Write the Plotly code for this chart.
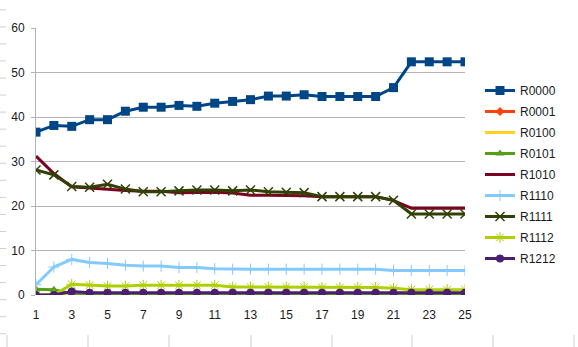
import plotly.graph_objects as go

x_vals = list(range(1, 26))
x_ticks = list(range(1, 26, 2))
y_ticks = [0, 10, 20, 30, 40, 50, 60]

R0000 = [36.6, 38.1, 37.9, 39.4, 39.4, 41.3, 42.2, 42.2, 42.6, 42.4, 43.1, 43.5, 43.9,
         44.7, 44.7, 45.0, 44.6, 44.6, 44.6, 44.6, 46.6, 52.4, 52.4, 52.4, 52.4]
R0001 = [0.0] * 25
R0100 = [0.0] * 25
R0101 = [1.3, 1.2] + [0.3] * 23
R1010 = [31.2, 27.3, 24.3, 24.0, 23.8, 23.5, 23.3, 23.3, 23.0, 23.1, 23.1, 22.9, 22.4,
         22.4, 22.4, 22.3, 22.1, 22.1, 22.1, 22.1, 21.2, 19.5, 19.5, 19.5, 19.5]
R1110 = [2.3, 6.3, 8.0, 7.3, 7.1, 6.7, 6.5, 6.5, 6.2, 6.2, 5.9, 5.8, 5.8,
         5.8, 5.8, 5.8, 5.8, 5.8, 5.8, 5.8, 5.5, 5.5, 5.5, 5.5, 5.5]
R1111 = [28.1, 27.0, 24.4, 24.2, 24.9, 23.8, 23.2, 23.2, 23.4, 23.6, 23.6, 23.4, 23.6,
         23.2, 23.1, 23.0, 22.1, 22.1, 22.1, 22.1, 21.3, 18.2, 18.2, 18.2, 18.2]
R1112 = [0.0, 0.0, 2.4, 2.2, 2.0, 2.0, 2.2, 2.2, 2.2, 2.2, 2.2, 1.8, 1.8,
         1.8, 1.8, 1.8, 1.7, 1.7, 1.7, 1.7, 1.5, 1.2, 1.2, 1.2, 1.2]
R1212 = [0.0, 0.0, 0.8] + [0.5] * 22

series = [
    ("R0000", R0000, "#004586", "square", 9, 0),
    ("R0001", R0001, "#FF420E", "diamond", 7, 0),
    ("R0100", R0100, "#FFD320", None, 0, 0),
    ("R0101", R0101, "#579D1C", "triangle-up", 8, 0),
    ("R1010", R1010, "#7E0021", None, 0, 0),
    ("R1110", R1110, "#83CAFF", "cross-thin-open", 8, 1),
    ("R1111", R1111, "#314004", "x-thin-open", 9, 1.5),
    ("R1112", R1112, "#AECF00", "asterisk-open", 9, 1),
    ("R1212", R1212, "#4B1F6F", "circle", 8, 0),
]

W, H = 578, 347
L, R, T, B = 36, 113, 28, 52
pw, ph = W - L - R, H - T - B

def px(xp):
    return (xp - L) / pw

def py(yp):
    return (H - B - yp) / ph

fig = go.Figure()
for name, vals, color, sym, size, lw in series:
    mode = "lines+markers" if sym else "lines"
    marker = dict(symbol=sym, size=size, color=color,
                  line=dict(width=lw, color=color)) if sym else None
    fig.add_trace(go.Scatter(
        x=x_vals, y=vals, name=name, mode=mode,
        line=dict(color=color, width=3),
        marker=marker, legendgroup=name,
    ))

shapes = []
# faint spreadsheet grid remnants at the left and bottom edges
for i in range(20):
    yy = 9.8 + 17.05 * i
    if yy > H:
        break
    shapes.append(dict(type="line", xref="paper", yref="paper",
                       x0=px(0), x1=px(6), y0=py(yy), y1=py(yy),
                       line=dict(color="#cfcfcf", width=1)))
for xx in [7, 88, 169, 251, 332, 412, 493, 574]:
    shapes.append(dict(type="line", xref="paper", yref="paper",
                       x0=px(xx), x1=px(xx), y0=py(335), y1=py(347),
                       line=dict(color="#cfcfcf", width=1)))

fig.update_layout(
    width=W, height=H,
    margin=dict(l=L, r=R, t=T, b=B),
    paper_bgcolor="white", plot_bgcolor="white",
    font=dict(family="Liberation Sans, Arial, sans-serif", size=12, color="#1a1a1a"),
    showlegend=True,
    legend=dict(x=px(480), y=py(76), xanchor="left", yanchor="top",
                font=dict(size=12), itemwidth=30, tracegroupgap=2,
                bgcolor="rgba(0,0,0,0)"),
    shapes=shapes,
    xaxis=dict(range=[1, 25], tickvals=x_ticks, showgrid=False, zeroline=False,
               showline=False, ticks="outside", ticklen=9,
               tickcolor="rgba(0,0,0,0)"),
    yaxis=dict(range=[0, 60], tickvals=y_ticks, showgrid=True, gridcolor="#b3b3b3",
               gridwidth=1, zeroline=False, showline=True, linecolor="#b3b3b3",
               linewidth=1, ticks="outside", ticklen=4, tickcolor="#b3b3b3",
               ticklabelstandoff=4),
)

fig.write_html("out.html")
